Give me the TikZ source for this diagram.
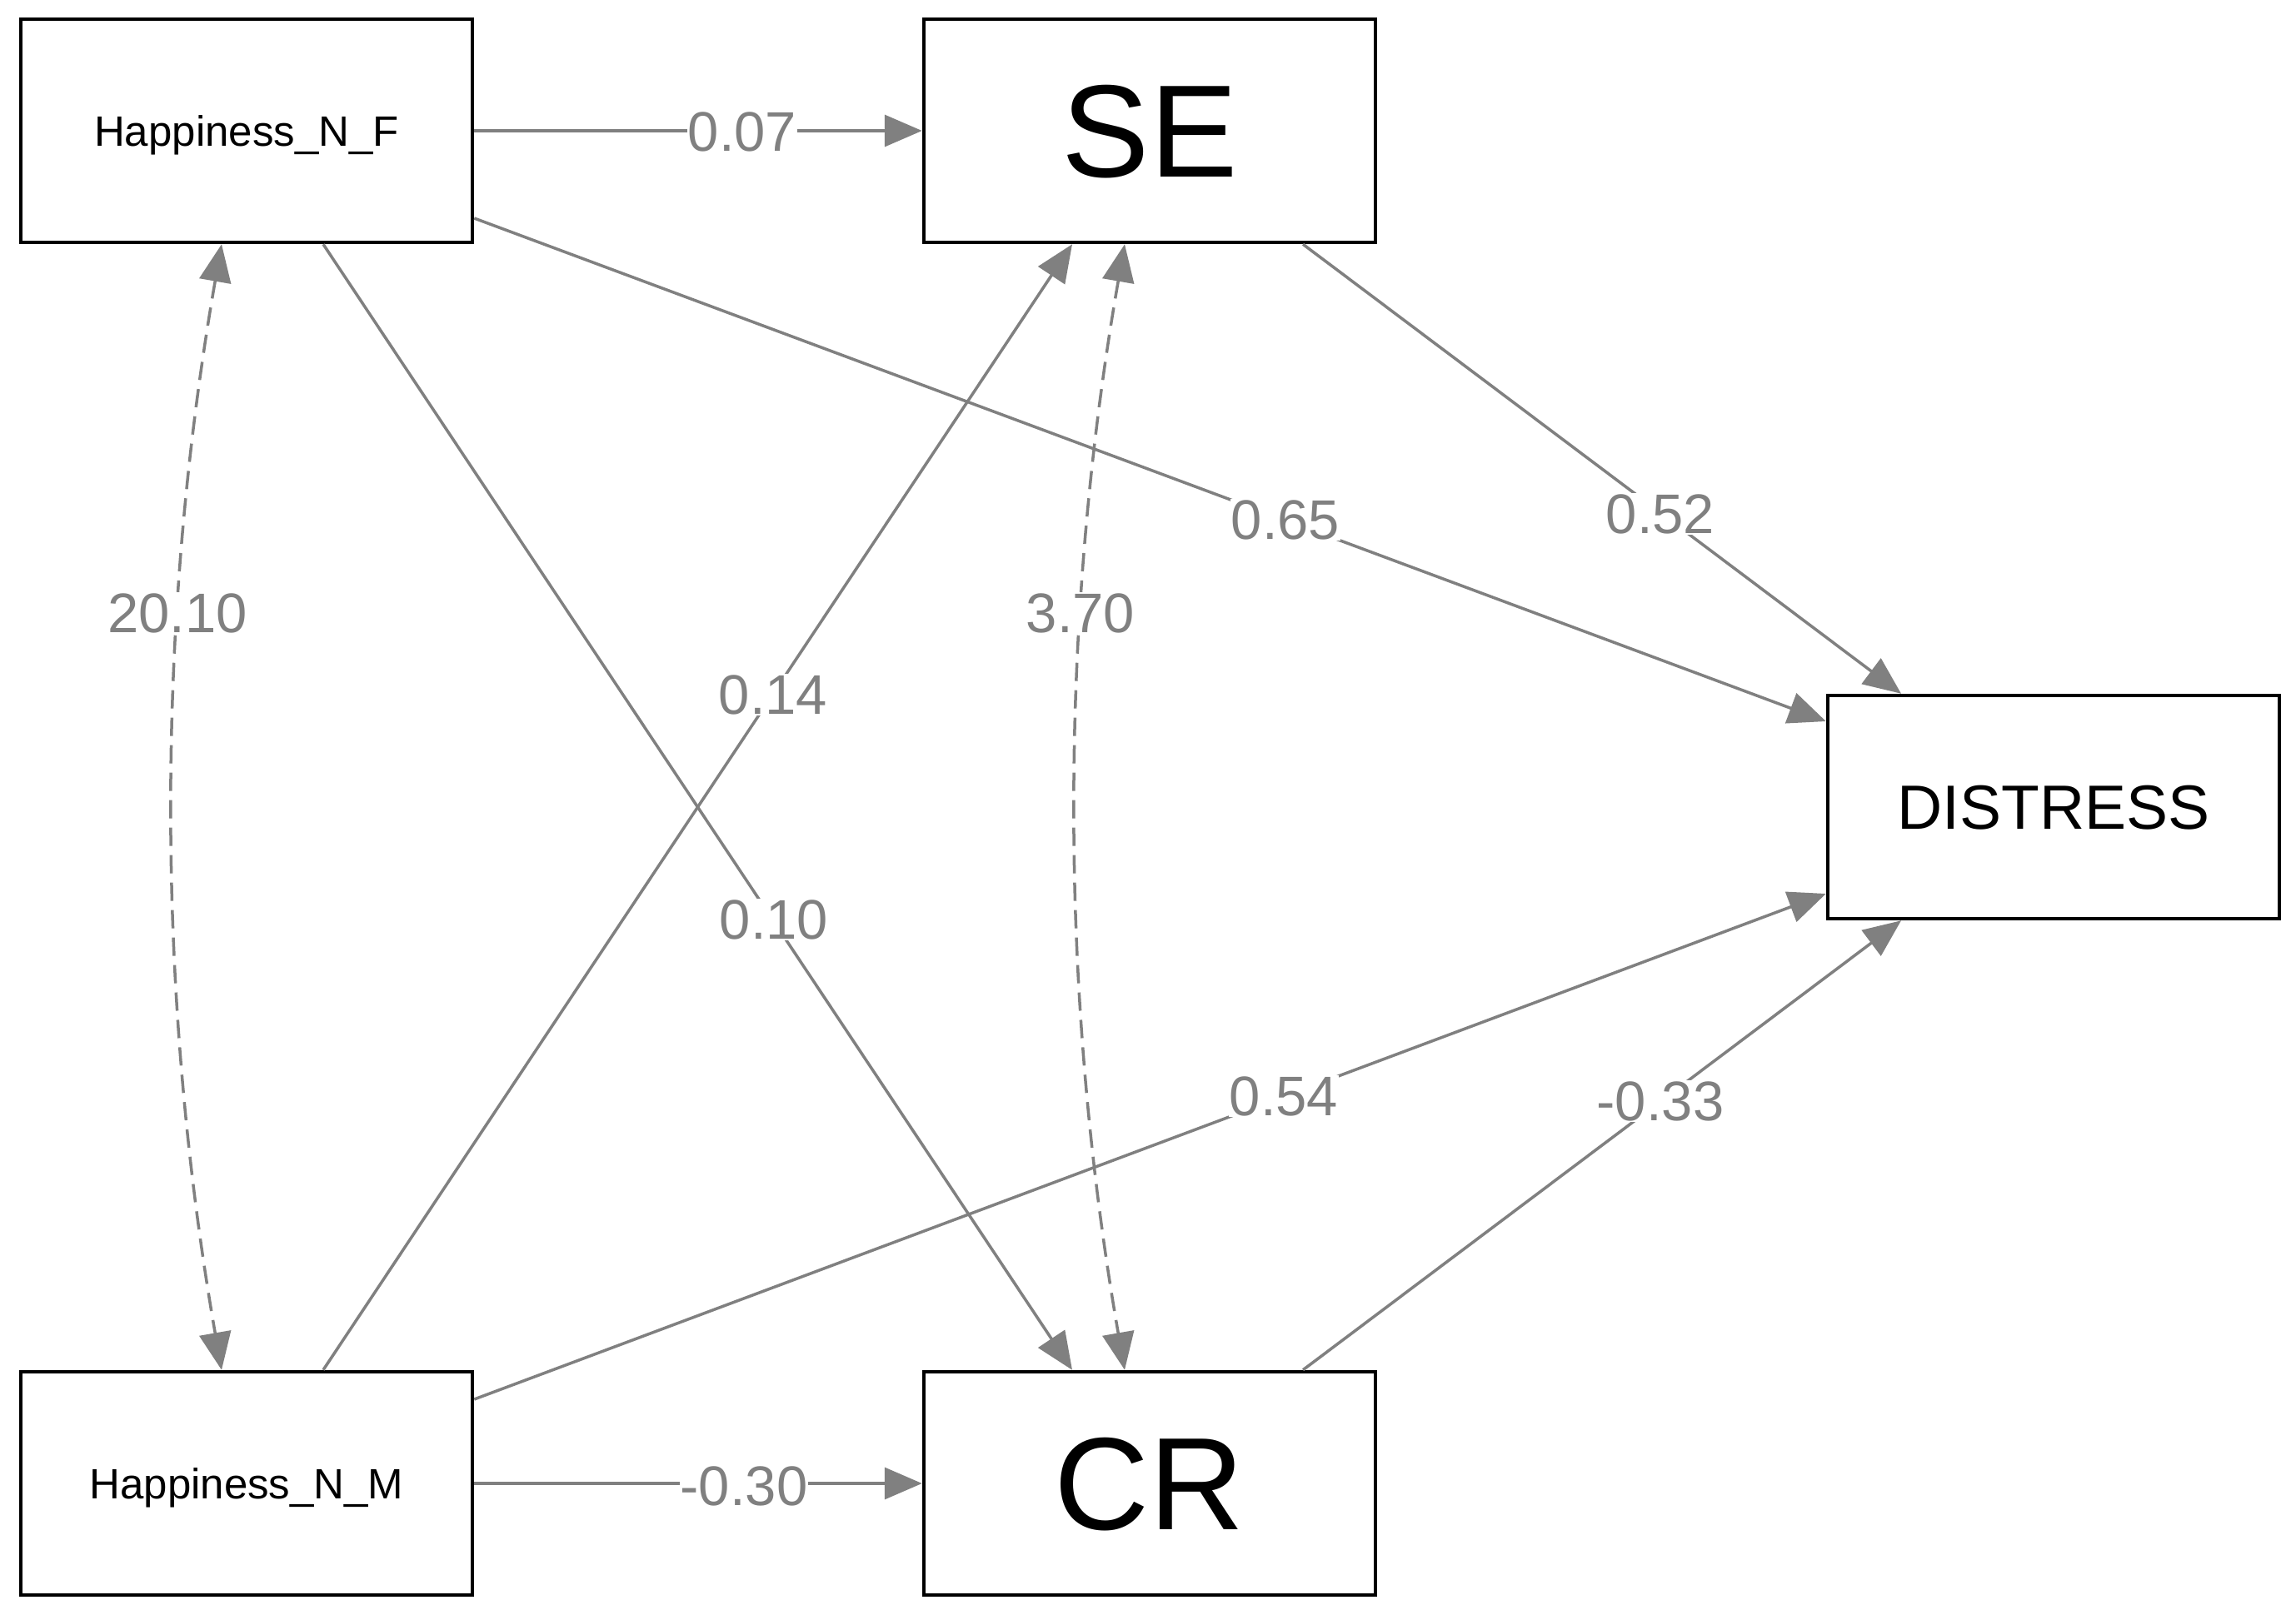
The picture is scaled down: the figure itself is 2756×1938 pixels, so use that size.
\documentclass[tikz,border=0pt]{standalone}
\usepackage{fontspec}
\setmainfont{Liberation Sans}
\usetikzlibrary{arrows.meta}
\definecolor{edgegray}{HTML}{808080}
\tikzset{
  box/.style={draw=black, line width=4.5pt, minimum width=542pt, minimum height=268pt, inner sep=0pt, fill=white, text=black, text depth=0pt},
  edgeline/.style={draw=edgegray, line width=3.5pt, -{Triangle[length=45pt,width=38pt]}},
  covline/.style={draw=edgegray, line width=3.5pt, dash pattern=on 22pt off 11pt, {Triangle[length=45pt,width=38pt]}-{Triangle[length=45pt,width=38pt]}},
  elabel/.style={fill=white, inner sep=1pt, text=edgegray, font=\fontsize{67}{80}\selectfont},
  smallname/.style={font=\fontsize{51}{62}\selectfont},
  bigname/.style={font=\fontsize{158}{190}\selectfont},
  midname/.style={font=\fontsize{75}{90}\selectfont}
}
\begin{document}
\begin{tikzpicture}[x=1pt,y=-1pt]
\useasboundingbox (0,0) rectangle (2756,1938);
% nodes
\node[box, smallname] (hnf) at (296,157) {Happiness\_N\_F};
\node[box, bigname] (se) at (1380,157) {SE};
\node[box, midname] (dis) at (2465,969) {DISTRESS};
\node[box, smallname] (hnm) at (296,1781) {Happiness\_N\_M};
\node[box, bigname] (cr) at (1380,1781) {CR};
% directed paths
\draw[edgeline] (hnf.east) -- (se.west);
\draw[edgeline] ([yshift=-105pt]hnf.east) -- ([yshift=103pt]dis.west);
\draw[edgeline] ([xshift=184pt]se.south) -- ([xshift=-183pt]dis.north);
\draw[edgeline] ([xshift=92pt]hnf.south) -- ([xshift=-93pt]cr.north);
\draw[edgeline] ([xshift=92pt]hnm.north) -- ([xshift=-93pt]se.south);
\draw[edgeline] ([yshift=101pt]hnm.east) -- ([yshift=-104pt]dis.west);
\draw[edgeline] ([xshift=184pt]cr.north) -- ([xshift=-183pt]dis.south);
\draw[edgeline] (hnm.east) -- (cr.west);
% covariances
\draw[covline] ([xshift=-30pt]hnf.south) .. controls +(-79,451) and +(-79,-451) .. ([xshift=-30pt]hnm.north);
\draw[covline] ([xshift=-30pt]se.south) .. controls +(-79,451) and +(-79,-451) .. ([xshift=-30pt]cr.north);
% labels
\node[elabel] (l1) at (891,158) {0.07};
\node[elabel] (l2) at (1543,624) {0.65};
\node[elabel] (l3) at (1993,617) {0.52};
\node[elabel] (l4) at (929,1104) {0.10};
\node[elabel] (l5) at (928,834) {0.14};
\node[elabel] (l6) at (1541,1316) {0.54};
\node[elabel] (l7) at (1993,1322) {-0.33};
\node[elabel] (l8) at (893,1784) {-0.30};
\node[elabel] (l9) at (213,736) {20.10};
\node[elabel] (l10) at (1297,736) {3.70};
\end{tikzpicture}
\end{document}
